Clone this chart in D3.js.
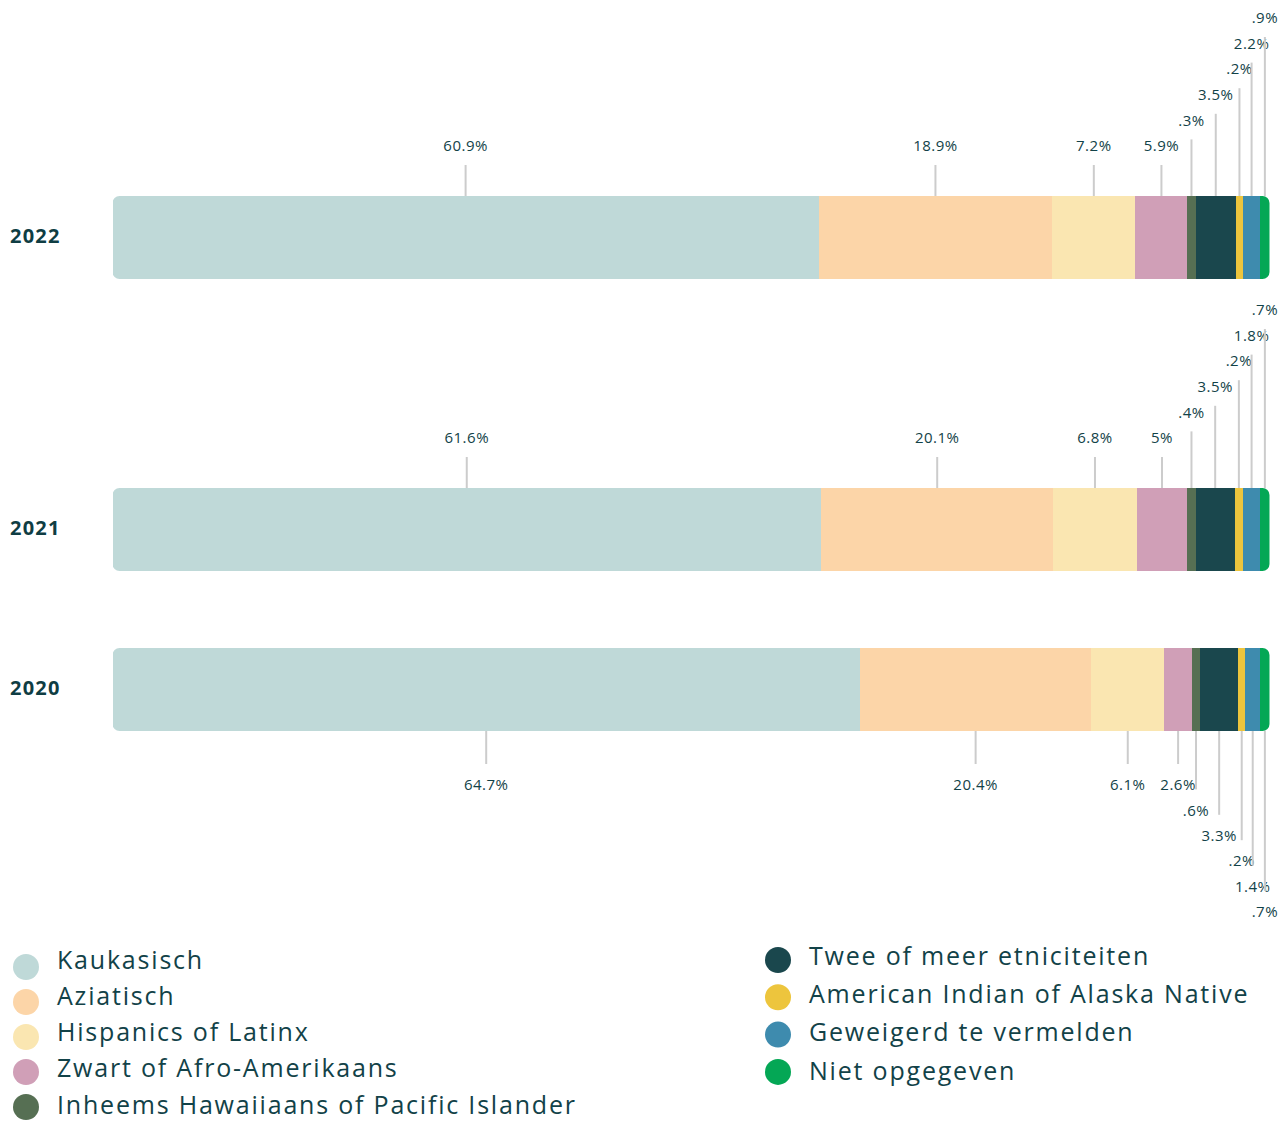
<!DOCTYPE html>
<html lang="nl">
<head>
<meta charset="utf-8">
<title>Etniciteit per jaar</title>
<script src="https://cdn.jsdelivr.net/npm/d3@7"></script>
<style>
  body { margin: 0; background: #fff; }
  svg text { font-family: "Open Sans", "Noto Sans", sans-serif; }
</style>
</head>
<body>
<div id="chart"></div>
<script>
// categorieen en kleuren
var categories = ["Kaukasisch", "Aziatisch", "Hispanics of Latinx", "Zwart of Afro-Amerikaans",
  "Inheems Hawaiiaans of Pacific Islander", "Twee of meer etniciteiten",
  "American Indian of Alaska Native", "Geweigerd te vermelden", "Niet opgegeven"];
var colors = ["#bfd9d8", "#fcd5a8", "#fae6b1", "#d09fb7", "#566f53", "#1a474d", "#edc53d", "#3e8bae", "#04a755"];
var years = ["2022", "2021", "2020"];

// percentages zoals in de labels
var labels2022 = [60.9, 18.9, 7.2, 5.9, 0.3, 3.5, 0.2, 2.2, 0.9];
var labels2021 = [61.6, 20.1, 6.8, 5, 0.4, 3.5, 0.2, 1.8, 0.7];
var labels2020 = [64.7, 20.4, 6.1, 2.6, 0.6, 3.3, 0.2, 1.4, 0.7];

// breedte van de segmenten zoals getekend in de balk (aandeel in %)
var shares2022 = [61.1, 20.2, 7.2, 4.5, 0.7, 3.5, 0.6, 1.5, 0.8];
var shares2021 = [61.3, 20.1, 7.2, 4.4, 0.7, 3.4, 0.7, 1.5, 0.8];
var shares2020 = [64.6, 20.0, 6.3, 2.4, 0.7, 3.3, 0.6, 1.3, 0.8];

var labels = {"2022": labels2022, "2021": labels2021, "2020": labels2020};
var shares = {"2022": shares2022, "2021": shares2021, "2020": shares2020};

var w = 1288, h = 1121;
var barH = 83;
var textColor = "#124248";

var svg = d3.select("#chart").append("svg")
  .attr("width", w)
  .attr("height", h);

var yScale = d3.scaleOrdinal()
  .domain(years)
  .range([196, 488, 648]);

var color = d3.scaleOrdinal()
  .domain(categories)
  .range(colors);

function fmt(v) {
  return String(v).replace(/^0\./, ".") + "%";
}

years.forEach(function(year) {
  var vals = shares[year];
  var total = d3.sum(vals);
  var xScale = d3.scaleLinear()
    .domain([0, total])
    .range([112.5, 1269.5]);
  var top = yScale(year);
  var below = year === "2020";

  var segs = [];
  var acc = 0;
  vals.forEach(function(v, i) {
    segs.push({cat: categories[i], x0: acc, x1: acc + v, label: labels[year][i], i: i});
    acc += v;
  });

  // afgeronde hoeken aan de uiteinden
  var clipId = "clip" + year;
  svg.append("clipPath")
    .attr("id", clipId)
    .append("rect")
    .attr("x", xScale(0))
    .attr("y", top)
    .attr("width", xScale(total) - xScale(0))
    .attr("height", barH)
    .attr("rx", 7);

  var g = svg.append("g");

  // verbindingslijnen en labels
  segs.forEach(function(d) {
    var level = d.i < 4 ? 0 : d.i - 3;
    var cx = (xScale(d.x0) + xScale(d.x1)) / 2;
    var textY, lineEnd, lineStart;
    if (!below) {
      textY = top - 50 - level * 25.6;
      lineStart = top;
      lineEnd = textY + 19;
    } else {
      textY = top + barH + 54 + level * 25.4;
      lineStart = top + barH;
      lineEnd = textY - 21;
    }
    g.append("line")
      .attr("x1", cx).attr("x2", cx)
      .attr("y1", lineStart).attr("y2", lineEnd)
      .attr("stroke", "#cccccc")
      .attr("stroke-width", 2);
    g.append("text")
      .attr("x", cx)
      .attr("y", textY)
      .attr("dy", "0.35em")
      .attr("text-anchor", "middle")
      .attr("font-size", "15px")
      .attr("letter-spacing", "0.5px")
      .attr("fill", textColor)
      .text(fmt(d.label));
  });

  g.append("g")
    .attr("clip-path", "url(#" + clipId + ")")
    .selectAll("rect")
    .data(segs)
    .enter()
    .append("rect")
    .attr("x", function(d) { return xScale(d.x0); })
    .attr("y", top)
    .attr("width", function(d) { return xScale(d.x1) - xScale(d.x0); })
    .attr("height", barH)
    .attr("fill", function(d) { return color(d.cat); })
    .attr("shape-rendering", "crispEdges");

  svg.append("text")
    .attr("x", 10)
    .attr("y", top + barH / 2 - 2)
    .attr("dy", "0.35em")
    .attr("font-size", "20px")
    .attr("font-weight", "bold")
    .attr("letter-spacing", "1.2px")
    .attr("fill", "#0f3d43")
    .text(year);
});

// legenda
var legendLeft = categories.slice(0, 5);
var legendRight = categories.slice(5);

function legendCol(items, x, circleY0, circleStep, textY0, textStep) {
  var lg = svg.append("g");
  lg.selectAll("circle")
    .data(items)
    .enter()
    .append("circle")
    .attr("cx", x)
    .attr("cy", function(d, i) { return circleY0 + i * circleStep; })
    .attr("r", 13)
    .attr("fill", function(d) { return color(d); });
  lg.selectAll("text")
    .data(items)
    .enter()
    .append("text")
    .attr("x", x + 31)
    .attr("y", function(d, i) { return textY0 + i * textStep; })
    .attr("dy", "0.35em")
    .attr("font-size", "25px")
    .attr("letter-spacing", "1.8px")
    .attr("fill", textColor)
    .text(function(d) { return d; });
}

legendCol(legendLeft, 26, 967, 35, 960, 36.2);
legendCol(legendRight, 778, 960, 37.3, 956, 38.3);
</script>
</body>
</html>
